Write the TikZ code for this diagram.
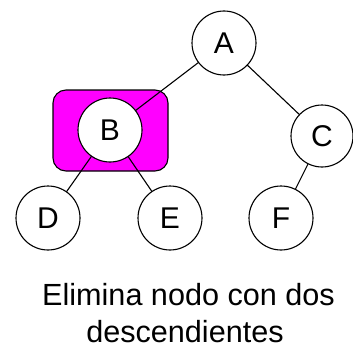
\documentclass[tikz,border=0pt]{standalone}
\usepackage{fontspec}
\setmainfont{Liberation Sans}
\definecolor{mag}{HTML}{FF00FF}
\begin{document}
\begin{tikzpicture}[x=1pt,y=-1pt,
  treenode/.style={circle,draw=black,line width=1.1pt,fill=white,minimum size=64pt,inner sep=0pt,font=\fontsize{30}{36}\selectfont},
  edge/.style={line width=1.1pt,black},
  lbl/.style={font=\fontsize{30.6}{38}\selectfont,anchor=base,inner sep=0pt}]
\useasboundingbox (0,0) rectangle (353,345);
\fill[white] (0,0) rectangle (353,345);
\node (hl) [draw=black,line width=1.1pt,fill=mag,rounded corners=13pt,minimum width=115pt,minimum height=81pt,inner sep=0pt] at (110.5,130.5) {};
\coordinate (Ac) at (224,43);
\coordinate (Bc) at (110,130);
\coordinate (Cc) at (322,136);
\coordinate (Dc) at (48,218);
\coordinate (Ec) at (170,218);
\coordinate (Fc) at (281,218);
\draw[edge] (Ac) -- (Bc);
\draw[edge] (Ac) -- (Cc);
\draw[edge] (Bc) -- (Dc);
\draw[edge] (Bc) -- (Ec);
\draw[edge] (Cc) -- (Fc);
\node[treenode] (A) at (Ac) {A};
\node[treenode] (B) at (Bc) {B};
\node[treenode,minimum size=62pt] (C) at (Cc) {C};
\node[treenode] (D) at (Dc) {D};
\node[treenode] (E) at (Ec) {E};
\node[treenode] (F) at (Fc) {F};
\node[lbl] (t1) at (188.5,305.5) {Elimina nodo con dos};
\node[lbl] (t2) at (185,342.5) {descendientes};
\end{tikzpicture}
\end{document}
